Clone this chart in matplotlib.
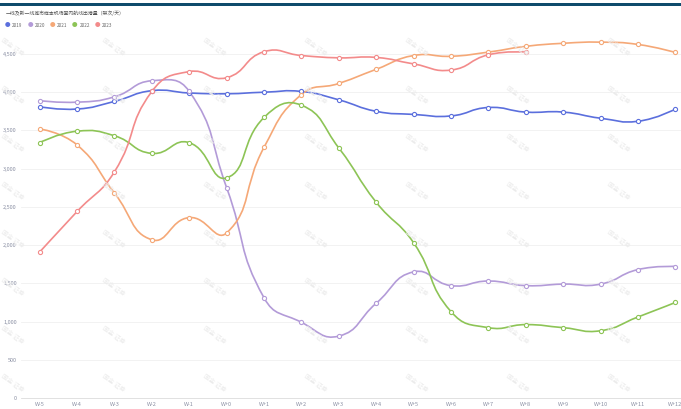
import numpy as np
import matplotlib
matplotlib.use('Agg')
import matplotlib.pyplot as plt
from matplotlib.path import Path
from matplotlib.patches import PathPatch, Rectangle

plt.rcParams['font.family'] = ['Noto Sans CJK SC', 'DejaVu Sans']

# 周次与各年份出港量（架次/天）
weeks = ['W-5', 'W-4', 'W-3', 'W-2', 'W-1', 'W+0', 'W+1', 'W+2', 'W+3',
         'W+4', 'W+5', 'W+6', 'W+7', 'W+8', 'W+9', 'W+10', 'W+11', 'W+12']
y2019 = [3810, 3780, 3880, 4020, 3990, 3980, 4000, 4010, 3900,
         3750, 3710, 3690, 3800, 3740, 3740, 3660, 3620, 3780]
y2020 = [3890, 3870, 3940, 4150, 4010, 2750, 1310, 990, 810,
         1240, 1650, 1470, 1530, 1470, 1490, 1490, 1680, 1720]
y2021 = [3520, 3310, 2680, 2070, 2360, 2160, 3280, 3970, 4115,
         4300, 4480, 4470, 4525, 4600, 4640, 4655, 4625, 4520]
y2022 = [3340, 3490, 3430, 3200, 3340, 2880, 3670, 3830, 3270,
         2560, 2030, 1130, 920, 960, 920, 880, 1060, 1250]
y2023 = [1910, 2440, 2960, 4010, 4270, 4190, 4530, 4480, 4450,
         4455, 4370, 4290, 4490, 4525]

series = [('2019', y2019, '#5b6fdd'),
          ('2020', y2020, '#b39bd8'),
          ('2021', y2021, '#f5a877'),
          ('2022', y2022, '#8dc456'),
          ('2023', y2023, '#f38b8b')]

title = '一线及新一线城市样本机场国内航线出港量（架次/天）'

W, H = 681, 409
fig = plt.figure(figsize=(W / 100, H / 100), dpi=100)
fig.patch.set_facecolor('white')

# 绘图区：左 21px，0 线在 398px，4500 线在 54px
ax = fig.add_axes([21 / W, (H - 398) / H, 1 - 21 / W, (398 - 54) / H])
ax.set_xlim(-0.5, 17.15)
ax.set_ylim(0, 4500)

# 每单位对应的像素，用来算平滑曲线的控制点
sx = 37.4
sy = 38.2 / 500


def smooth_path(xs, ys, k=0.5):
    p = np.column_stack([np.asarray(xs, float) * sx, np.asarray(ys, float) * sy])
    n = len(p)
    cp_in = p.copy()
    cp_out = p.copy()
    for i in range(1, n - 1):
        v = (p[i + 1] - p[i - 1]) * k
        d0 = np.linalg.norm(p[i] - p[i - 1])
        d1 = np.linalg.norm(p[i + 1] - p[i])
        s = d0 + d1
        if s > 0:
            cp_in[i] = p[i] - v * d0 / s
            cp_out[i] = p[i] + v * d1 / s
    verts = [p[0]]
    codes = [Path.MOVETO]
    for i in range(n - 1):
        verts += [cp_out[i], cp_in[i + 1], p[i + 1]]
        codes += [Path.CURVE4] * 3
    verts = np.array(verts) / np.array([sx, sy])
    return Path(verts, codes)


for name, vals, color in series:
    xs = np.arange(len(vals))
    patch = PathPatch(smooth_path(xs, vals), facecolor='none', edgecolor=color,
                      lw=1.2, clip_on=False, zorder=3)
    ax.add_patch(patch)
    ax.plot(xs, vals, linestyle='none', marker='o', markersize=3,
            markerfacecolor='white', markeredgecolor=color,
            markeredgewidth=0.8, clip_on=False, zorder=4)

# 坐标轴样式
ax.set_yticks(np.arange(0, 4501, 500))
ax.set_yticklabels([f'{v:,}' for v in range(0, 4501, 500)])
ax.set_xticks(np.arange(len(weeks)))
ax.set_xticklabels(weeks)
ax.tick_params(axis='both', length=0, labelsize=4, labelcolor='#8a8fa3')
ax.tick_params(axis='y', pad=3)
ax.tick_params(axis='x', pad=3)
ax.grid(axis='y', color='#f0f0f0', lw=0.6)
ax.set_axisbelow(True)
for side in ['top', 'right', 'left']:
    ax.spines[side].set_visible(False)
ax.spines['bottom'].set_color('#dcdcdc')
ax.spines['bottom'].set_linewidth(0.6)

# 水印
for cx in range(12, 700, 101):
    for cy in range(47, 400, 48):
        fig.text(cx / W, 1 - cy / H, '国金 证券', fontsize=4.5, color='#ebebeb',
                 rotation=-35, ha='center', va='center', zorder=0)

# 顶部色条、标题和图例
fig.add_artist(Rectangle((0, 1 - 6 / H), 1, 3 / H, transform=fig.transFigure,
                         color='#0e4b6c', lw=0))
fig.text(6 / W, 1 - 13.5 / H, title, fontsize=3.5, color='#555555',
         ha='left', va='center')
for i, (name, vals, color) in enumerate(series):
    x0 = 7.5 + 22.5 * i
    fig.text(x0 / W, 1 - 25.5 / H, '●', fontsize=4, color=color,
             ha='center', va='center')
    fig.text((x0 + 4.5) / W, 1 - 25.5 / H, name, fontsize=3.3, color='#666666',
             ha='left', va='center')

fig.savefig('out.png', dpi=100)
